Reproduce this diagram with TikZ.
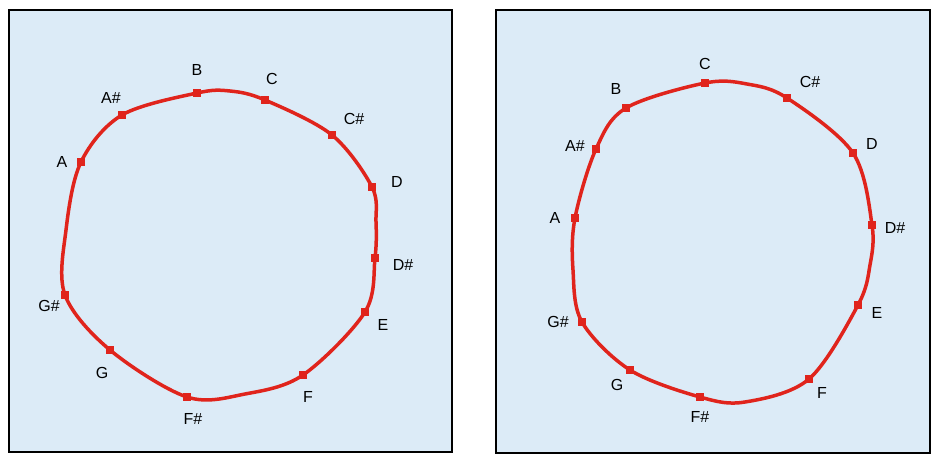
\documentclass[tikz,border=0pt]{standalone}
\usepackage{fontspec}
\setmainfont{Liberation Sans}
\usepackage{xcolor}
\usepackage{tikz}
\pgfdeclarelayer{bg}
\pgfdeclarelayer{mid}
\pgfsetlayers{bg,mid,main}
\definecolor{panelblue}{RGB}{220,235,247}
\definecolor{notered}{RGB}{224,36,28}

\begin{document}
\begin{tikzpicture}[
    x=1pt, y=-1pt,
    panel/.style={draw=black, line width=2pt, fill=panelblue},
    notedot/.style={rectangle, fill=notered, inner sep=0pt, minimum size=8pt},
    notename/.style={font=\fontsize{16}{19}\selectfont, inner sep=0pt},
    ring/.style={draw=notered, line width=3.5pt, smooth cycle, tension=0.55}
]
    \useasboundingbox (0,0) rectangle (932,456);

    \begin{pgfonlayer}{bg}
        \node[panel, minimum width=443pt, minimum height=442pt, inner sep=0pt] (leftpanel) at (230.5,231) {};
        \node[panel, minimum width=434pt, minimum height=443pt, inner sep=0pt] (rightpanel) at (713,231.5) {};
    \end{pgfonlayer}

    % left circle
    \node[notedot] (lB)  at (197,93) {};
    \node[notedot] (lC)  at (265,100) {};
    \node[notedot] (lCs) at (332,135) {};
    \node[notedot] (lD)  at (372,187) {};
    \node[notedot] (lDs) at (375,258) {};
    \node[notedot] (lE)  at (365,312) {};
    \node[notedot] (lF)  at (303,375) {};
    \node[notedot] (lFs) at (187,397) {};
    \node[notedot] (lG)  at (110,350) {};
    \node[notedot] (lGs) at (65,295) {};
    \node[notedot] (lA)  at (81,162) {};
    \node[notedot] (lAs) at (122,115) {};

    \node[notename] (tlB)  at (197,70) {B};
    \node[notename] (tlC)  at (272,79) {C};
    \node[notename] (tlCs) at (354,119) {C\#};
    \node[notename] (tlD)  at (397,182) {D};
    \node[notename] (tlDs) at (403,265) {D\#};
    \node[notename] (tlE)  at (383,325) {E};
    \node[notename] (tlF)  at (308,397) {F};
    \node[notename] (tlFs) at (193,419) {F\#};
    \node[notename] (tlG)  at (102,373) {G};
    \node[notename] (tlGs) at (49,306) {G\#};
    \node[notename] (tlA)  at (62,162) {A};
    \node[notename] (tlAs) at (111,98) {A\#};

    % right circle
    \node[notedot] (rC)  at (705,83) {};
    \node[notedot] (rCs) at (787,98) {};
    \node[notedot] (rD)  at (853,153) {};
    \node[notedot] (rDs) at (872,225) {};
    \node[notedot] (rE)  at (858,305) {};
    \node[notedot] (rF)  at (809,379) {};
    \node[notedot] (rFs) at (700,397) {};
    \node[notedot] (rG)  at (630,370) {};
    \node[notedot] (rGs) at (582,322) {};
    \node[notedot] (rA)  at (575,218) {};
    \node[notedot] (rAs) at (596,149) {};
    \node[notedot] (rB)  at (626,108) {};

    \node[notename] (trC)  at (705,64) {C};
    \node[notename] (trCs) at (810,82) {C\#};
    \node[notename] (trD)  at (872,144) {D};
    \node[notename] (trDs) at (895,228) {D\#};
    \node[notename] (trE)  at (877,313) {E};
    \node[notename] (trF)  at (822,393) {F};
    \node[notename] (trFs) at (700,417) {F\#};
    \node[notename] (trG)  at (617,385) {G};
    \node[notename] (trGs) at (558,322) {G\#};
    \node[notename] (trA)  at (555,218) {A};
    \node[notename] (trAs) at (575,146) {A\#};
    \node[notename] (trB)  at (616,89) {B};

    \begin{pgfonlayer}{mid}
        \draw[ring] plot coordinates {(lB) (230,91) (lC) (lCs) (lD) (376,222) (lDs) (lE) (lF) (245,394)
            (lFs) (lG) (lGs) (66,230) (lA) (lAs)};
        \draw[ring] plot coordinates {(rC) (747,84) (rCs) (rD) (rDs) (870,265) (rE) (rF) (745,402)
            (rFs) (rG) (rGs) (573,270) (rA) (rAs) (rB)};
    \end{pgfonlayer}
\end{tikzpicture}
\end{document}
